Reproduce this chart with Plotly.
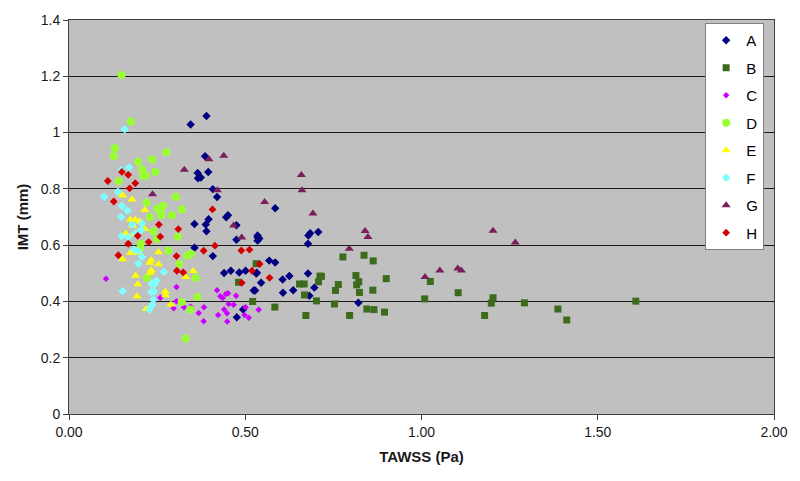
import plotly.graph_objects as go

# TAWSS (Pa) / IMT (mm) per group
a_x = [0.345, 0.390, 0.386, 0.365, 0.395, 0.366, 0.374, 0.408, 0.420, 0.446, 0.451, 0.396,
       0.356, 0.388, 0.390, 0.475, 0.475, 0.535, 0.356, 0.408, 0.440, 0.459, 0.483, 0.501,
       0.533, 0.524, 0.494, 0.476, 0.585, 0.535, 0.540, 0.535, 0.679, 0.684, 0.707, 0.678,
       0.568, 0.585, 0.531, 0.545, 0.528, 0.606, 0.625, 0.678, 0.636, 0.607, 0.696, 0.682, 0.821]
a_y = [1.029, 1.059, 0.916, 0.856, 0.860, 0.838, 0.840, 0.799, 0.771, 0.699, 0.706, 0.692,
       0.675, 0.673, 0.649, 0.671, 0.619, 0.628, 0.591, 0.561, 0.501, 0.509, 0.503, 0.509,
       0.502, 0.439, 0.371, 0.344, 0.731, 0.634, 0.624, 0.616, 0.634, 0.642, 0.647, 0.605,
       0.545, 0.538, 0.499, 0.466, 0.439, 0.478, 0.490, 0.499, 0.440, 0.431, 0.449, 0.420, 0.395]

b_x = [0.777, 0.837, 0.863, 0.712, 0.716, 0.708, 0.654, 0.667, 0.764, 0.756, 0.668, 0.702,
       0.753, 0.814, 0.822, 0.816, 0.824, 0.862, 0.900, 1.025, 1.009, 0.845, 0.865, 0.895,
       0.796, 0.672, 0.584, 0.521, 0.531, 0.481, 1.104, 1.203, 1.198, 1.179, 1.292, 1.387,
       1.412, 1.608]
b_y = [0.558, 0.564, 0.544, 0.490, 0.489, 0.470, 0.462, 0.462, 0.460, 0.439, 0.423, 0.402,
       0.391, 0.492, 0.470, 0.459, 0.432, 0.440, 0.481, 0.471, 0.409, 0.373, 0.371, 0.362,
       0.350, 0.350, 0.380, 0.400, 0.534, 0.468, 0.431, 0.413, 0.394, 0.350, 0.395, 0.373,
       0.334, 0.401]

c_x = [0.105, 0.305, 0.259, 0.305, 0.297, 0.326, 0.345, 0.383, 0.368, 0.382, 0.420, 0.429,
       0.445, 0.451, 0.474, 0.436, 0.453, 0.440, 0.467, 0.501, 0.498, 0.448, 0.423, 0.449,
       0.510, 0.538]
c_y = [0.481, 0.451, 0.413, 0.401, 0.376, 0.379, 0.381, 0.379, 0.359, 0.330, 0.440, 0.418,
       0.426, 0.429, 0.420, 0.412, 0.391, 0.371, 0.388, 0.379, 0.352, 0.358, 0.352, 0.329,
       0.342, 0.370]

d_x = [0.149, 0.175, 0.130, 0.127, 0.276, 0.196, 0.236, 0.208, 0.245, 0.210, 0.218, 0.141,
       0.220, 0.303, 0.251, 0.267, 0.259, 0.320, 0.262, 0.292, 0.230, 0.309, 0.239, 0.249,
       0.203, 0.202, 0.282, 0.335, 0.346, 0.313, 0.359, 0.221, 0.364, 0.320, 0.344, 0.331]
d_y = [1.205, 1.039, 0.944, 0.916, 0.930, 0.896, 0.904, 0.869, 0.860, 0.847, 0.847, 0.828,
       0.751, 0.772, 0.730, 0.740, 0.722, 0.727, 0.706, 0.706, 0.700, 0.630, 0.649, 0.622,
       0.605, 0.589, 0.580, 0.562, 0.569, 0.533, 0.484, 0.484, 0.416, 0.398, 0.371, 0.268]

e_x = [0.152, 0.179, 0.215, 0.174, 0.188, 0.201, 0.181, 0.215, 0.161, 0.184, 0.174, 0.186,
       0.198, 0.152, 0.254, 0.233, 0.229, 0.254, 0.233, 0.231, 0.189, 0.195, 0.193, 0.273,
       0.274, 0.289, 0.219, 0.331, 0.352]
e_y = [0.777, 0.762, 0.725, 0.690, 0.690, 0.684, 0.669, 0.657, 0.641, 0.639, 0.573, 0.573,
       0.575, 0.550, 0.575, 0.546, 0.537, 0.532, 0.511, 0.502, 0.491, 0.461, 0.418, 0.435,
       0.422, 0.389, 0.373, 0.487, 0.508]

f_x = [0.158, 0.170, 0.148, 0.139, 0.100, 0.150, 0.166, 0.148, 0.149, 0.168, 0.179, 0.207,
       0.205, 0.188, 0.184, 0.197, 0.207, 0.197, 0.269, 0.248, 0.234, 0.243, 0.241, 0.233,
       0.239, 0.236, 0.228, 0.152]
f_y = [1.012, 0.876, 0.866, 0.790, 0.772, 0.739, 0.723, 0.700, 0.632, 0.628, 0.673, 0.677,
       0.655, 0.642, 0.584, 0.578, 0.558, 0.534, 0.505, 0.474, 0.462, 0.462, 0.435, 0.434,
       0.406, 0.387, 0.371, 0.437]

g_x = [0.439, 0.397, 0.327, 0.421, 0.237, 0.467, 0.490, 0.659, 0.661, 0.555, 0.692, 0.840,
       0.848, 0.795, 1.203, 1.266, 1.010, 1.052, 1.103, 1.113]
g_y = [0.918, 0.905, 0.868, 0.795, 0.781, 0.670, 0.627, 0.849, 0.795, 0.753, 0.712, 0.650,
       0.629, 0.587, 0.651, 0.609, 0.487, 0.510, 0.517, 0.510]

h_x = [0.150, 0.168, 0.110, 0.188, 0.172, 0.127, 0.407, 0.255, 0.310, 0.195, 0.259, 0.226,
       0.168, 0.140, 0.305, 0.382, 0.414, 0.489, 0.512, 0.306, 0.324, 0.490, 0.519, 0.541, 0.569]
h_y = [0.860, 0.850, 0.828, 0.820, 0.802, 0.755, 0.727, 0.673, 0.657, 0.633, 0.630, 0.611,
       0.605, 0.564, 0.561, 0.580, 0.598, 0.581, 0.584, 0.509, 0.503, 0.466, 0.509, 0.533, 0.484]

x_ticks = [0, 0.5, 1.0, 1.5, 2.0]
y_ticks = [0, 0.2, 0.4, 0.6, 0.8, 1.0, 1.2, 1.4]

series = [
    ("A", a_x, a_y, "diamond", 6.5, "#000080"),
    ("B", b_x, b_y, "square", 7, "#3b6b1b"),
    ("C", c_x, c_y, "diamond", 5, "#cc00ff"),
    ("D", d_x, d_y, "circle", 8, "#99ff33"),
    ("E", e_x, e_y, "triangle-up", 8, "#ffff00"),
    ("F", f_x, f_y, "diamond", 6.5, "#80ffff"),
    ("G", g_x, g_y, "triangle-up", 8, "#7a1f5c"),
    ("H", h_x, h_y, "diamond", 6, "#d40000"),
]

fig = go.Figure()
for name, xs, ys, symbol, size, color in series:
    fig.add_trace(
        go.Scatter(
            x=xs,
            y=ys,
            mode="markers",
            name=name,
            legendgroup=name,
            marker={"symbol": symbol, "size": size, "color": color, "line": {"width": 0}},
        )
    )

font = "Arial, Liberation Sans, sans-serif"
fig.update_layout(
    width=800,
    height=481,
    paper_bgcolor="white",
    plot_bgcolor="#c0c0c0",
    margin={"l": 69, "r": 25, "t": 15, "b": 67},
    font={"family": font, "color": "#1a1a1a", "size": 14},
    legend={
        "x": 0.986,
        "y": 0.9925,
        "xanchor": "right",
        "yanchor": "top",
        "bgcolor": "white",
        "bordercolor": "#808080",
        "borderwidth": 1,
        "font": {"size": 15, "color": "#000000"},
        "traceorder": "grouped",
        "tracegroupgap": 5,
        "itemwidth": 30,
    },
    xaxis={
        "range": [0, 2],
        "tickvals": x_ticks,
        "tickformat": ".2f",
        "showgrid": False,
        "zeroline": False,
        "showline": True,
        "linecolor": "#404040",
        "mirror": True,
        "ticks": "outside",
        "ticklen": 5,
        "tickcolor": "#404040",
        "title": {"text": "<b>TAWSS (Pa)</b>", "font": {"size": 15}, "standoff": 12},
    },
    yaxis={
        "range": [0, 1.4],
        "tickvals": y_ticks,
        "showgrid": True,
        "gridcolor": "#1a1a1a",
        "gridwidth": 1,
        "zeroline": False,
        "showline": True,
        "linecolor": "#404040",
        "mirror": True,
        "ticks": "outside",
        "ticklen": 5,
        "tickcolor": "#404040",
        "title": {"text": "<b>IMT (mm)</b>", "font": {"size": 15}, "standoff": 8},
    },
)

# drop the default page margin so the 800x481 figure sits at the window origin
fig.write_html(
    "out.html",
    config={"displayModeBar": False},
    post_script="document.body.style.margin = '0';",
)
